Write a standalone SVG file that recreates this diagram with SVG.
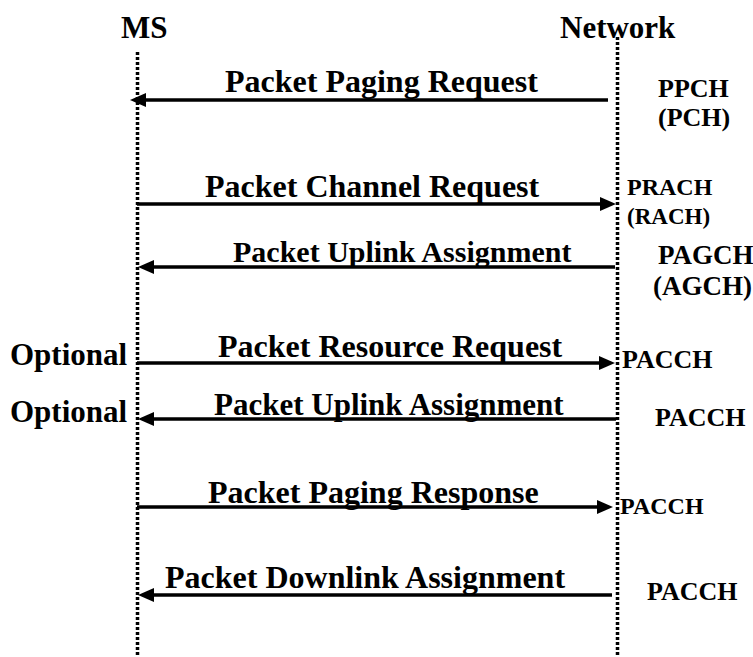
<svg xmlns="http://www.w3.org/2000/svg" width="753" height="657" viewBox="0 0 753 657">
<style>
  text { font-family: 'Liberation Serif', 'Times New Roman', Times, serif; font-weight: 700; fill: #000; }
  .hdr { font-size: 31px; }
  .msg { font-size: 32px; }
  .ch { font-size: 26px; }
  .life { stroke: #000; stroke-width: 3.5; stroke-dasharray: 3 2; fill: none; }
  .arr { stroke: #000; stroke-width: 3.5; fill: none; marker-end: url(#ah); }
</style>
<defs>
  <marker id="ah" markerUnits="userSpaceOnUse" markerWidth="16" markerHeight="14" refX="6" refY="7" orient="auto">
    <path d="M0,0 L16,7 L0,14 z" fill="#000"/>
  </marker>
</defs>
<rect width="753" height="657" fill="#fff"/>

<g id="ms">
  <text class="hdr" x="121" y="38">MS</text>
  <line class="life" x1="137.5" y1="52" x2="137.5" y2="657"/>
</g>
<g id="network">
  <text class="hdr" x="560" y="38">Network</text>
  <line class="life" x1="617.5" y1="37" x2="617.5" y2="657"/>
</g>

<g id="connectors">
  <line class="arr" x1="608" y1="100" x2="140" y2="100"/>
  <line class="arr" x1="137" y1="204" x2="606" y2="204"/>
  <line class="arr" x1="615" y1="267" x2="148" y2="267"/>
  <line class="arr" x1="137" y1="363" x2="605" y2="363"/>
  <line class="arr" x1="616" y1="419" x2="148" y2="419"/>
  <line class="arr" x1="137" y1="507" x2="603" y2="507"/>
  <line class="arr" x1="612" y1="595" x2="148" y2="595"/>
</g>

<g id="msg-labels">
  <text class="msg" x="225" y="92">Packet Paging Request</text>
  <text class="msg" x="205" y="197">Packet Channel Request</text>
  <text class="msg" x="233" y="262" style="font-size:30px">Packet Uplink Assignment</text>
  <text class="msg" x="218" y="357">Packet Resource Request</text>
  <text class="msg" x="214" y="415" style="font-size:31px">Packet Uplink Assignment</text>
  <text class="msg" x="208" y="503">Packet Paging Response</text>
  <text class="msg" x="165" y="588">Packet Downlink Assignment</text>
</g>

<g id="optional-labels">
  <text class="hdr" x="10" y="365">Optional</text>
  <text class="hdr" x="10" y="422">Optional</text>
</g>

<g id="channel-labels">
  <text class="ch" x="658" y="97">PPCH</text>
  <text class="ch" x="658" y="126">(PCH)</text>
  <text class="ch" x="627" y="195" style="font-size:24px">PRACH</text>
  <text class="ch" x="627" y="224" style="font-size:23px">(RACH)</text>
  <text class="ch" x="658" y="264" style="font-size:27px">PAGCH</text>
  <text class="ch" x="653" y="295" style="font-size:27px">(AGCH)</text>
  <text class="ch" x="622" y="368">PACCH</text>
  <text class="ch" x="655" y="426">PACCH</text>
  <text class="ch" x="620" y="514" style="font-size:24px">PACCH</text>
  <text class="ch" x="647" y="600">PACCH</text>
</g>
</svg>
